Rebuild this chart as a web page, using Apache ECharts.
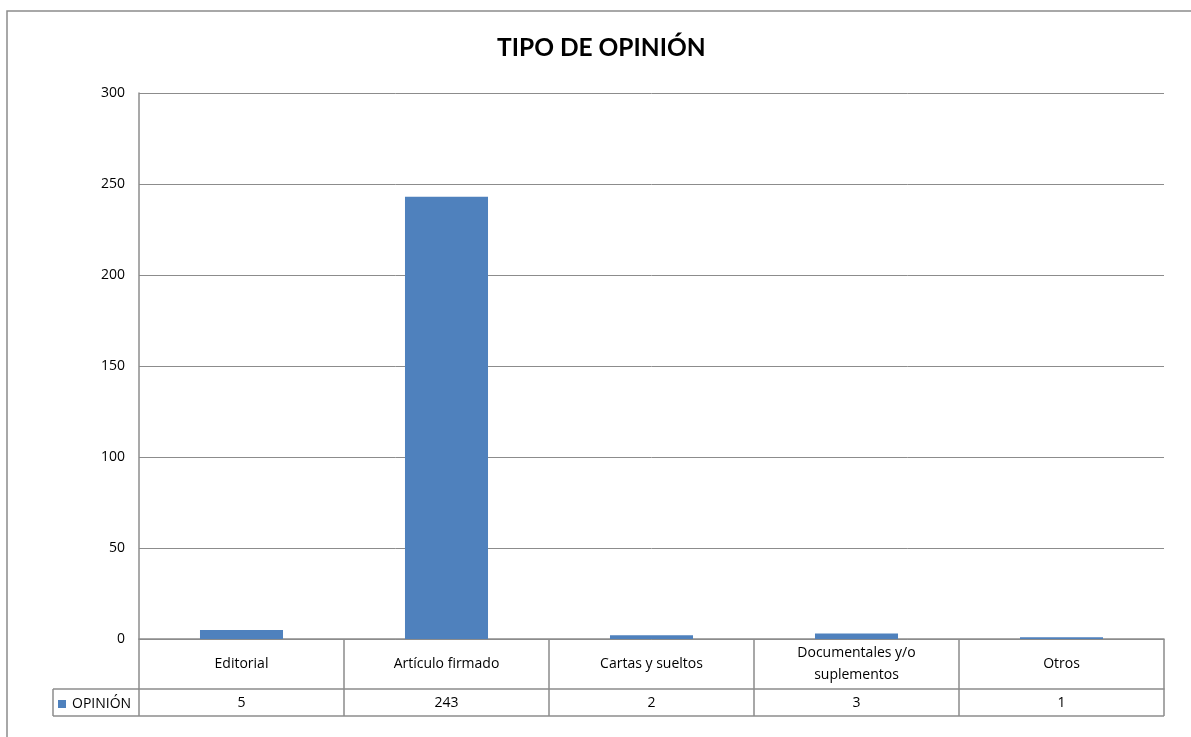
<!DOCTYPE html>
<html>
<head>
<meta charset="utf-8">
<script src="https://cdn.jsdelivr.net/npm/echarts@6/dist/echarts.min.js"></script>
<style>
html,body{margin:0;padding:0;background:#fff;}
#c{width:1191px;height:737px;}
</style>
</head>
<body>
<div id="c"></div>
<script>
const titleText = 'TIPO DE OPINIÓN';
const categories = ['Editorial', 'Artículo firmado', 'Cartas y sueltos', 'Documentales y/o\nsuplementos', 'Otros'];
const seriesName = 'OPINIÓN';
const values = [5, 243, 2, 3, 1];
const yMin = 0, yMax = 300, yInterval = 50;

const FONT = '"Open Sans", Lato, sans-serif';
const TFONT = 'Lato, "Open Sans", sans-serif';
const LINE = '#8c8c8c';
const BAR = '#4F81BD';

const chart = echarts.init(document.getElementById('c'));
chart.setOption({
  backgroundColor: '#fff',
  animation: false,
  title: {
    text: titleText,
    left: 497,
    top: 36,
    padding: 0,
    textStyle: { fontFamily: TFONT, fontSize: 24.5, fontWeight: 'bold', color: '#000' }
  },
  legend: {
    data: [seriesName],
    left: 58,
    top: 697,
    padding: 0,
    itemWidth: 8,
    itemHeight: 8,
    icon: 'rect',
    textStyle: { fontFamily: FONT, fontSize: 14, color: '#000', padding: [2, 0, 0, 1] }
  },
  grid: { left: 139, right: 27, top: 93, bottom: 98, containLabel: false },
  xAxis: [
    {
      type: 'category',
      data: categories,
      position: 'bottom',
      axisLine: { show: true, lineStyle: { color: LINE, width: 1.5 } },
      axisTick: { show: true, length: 50, lineStyle: { color: LINE, width: 1.5 } },
      axisLabel: { color: '#000', fontFamily: FONT, fontSize: 14, margin: 25, verticalAlign: 'middle', lineHeight: 22, interval: 0 },
      splitLine: { show: false }
    },
    {
      type: 'category',
      data: values.map(String),
      position: 'bottom',
      offset: 50,
      axisLine: { show: true, lineStyle: { color: LINE, width: 1.5 } },
      axisTick: { show: true, length: 27, lineStyle: { color: LINE, width: 1.5 } },
      axisLabel: { color: '#000', fontFamily: FONT, fontSize: 14, margin: 14, verticalAlign: 'middle', interval: 0 },
      splitLine: { show: false }
    }
  ],
  yAxis: {
    type: 'value',
    min: yMin,
    max: yMax,
    interval: yInterval,
    axisLine: { show: true, lineStyle: { color: LINE, width: 1.5 } },
    axisTick: { show: false },
    axisLabel: { color: '#000', fontFamily: FONT, fontSize: 14, margin: 14 },
    splitLine: { show: true, lineStyle: { color: LINE, width: 1 } }
  },
  series: [{
    name: seriesName,
    type: 'bar',
    data: values,
    barWidth: '40.5%',
    itemStyle: { color: BAR },
    xAxisIndex: 0
  }],
  graphic: [
    { type: 'rect', shape: { x: 7, y: 11, width: 1400, height: 900 }, style: { fill: 'none', stroke: LINE, lineWidth: 1.5 }, silent: true },
    { type: 'line', shape: { x1: 53, y1: 716, x2: 1164, y2: 716 }, style: { stroke: LINE, lineWidth: 1.5 }, silent: true },
    { type: 'line', shape: { x1: 53, y1: 689, x2: 139, y2: 689 }, style: { stroke: LINE, lineWidth: 1.5 }, silent: true },
    { type: 'line', shape: { x1: 53, y1: 689, x2: 53, y2: 716 }, style: { stroke: LINE, lineWidth: 1.5 }, silent: true }
  ]
});
</script>
</body>
</html>
